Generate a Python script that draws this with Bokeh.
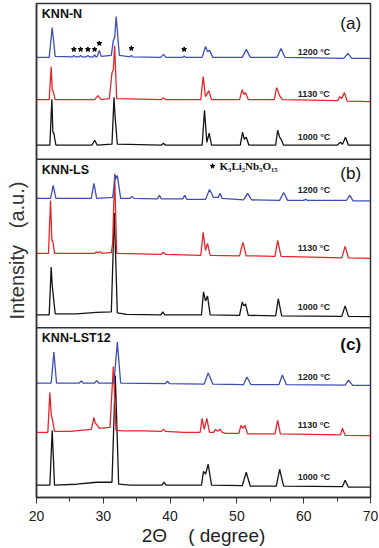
from bokeh.plotting import figure
from bokeh.models import Range1d, Label, Span, SingleIntervalTicker, FixedTicker
from bokeh.embed import file_html
from bokeh.resources import INLINE

# ---------------- data (2theta in degrees, intensity in a.u. above each pattern's baseline) ----------------
# Panel (a) KNN-N
a1200_x = [20, 21.9, 22.35, 22.8, 25.4, 25.6, 25.8, 26.4, 26.6, 26.8, 27.5, 27.7, 27.9, 28.5, 28.7, 28.9, 29.1, 29.4, 29.7,
           31.2, 31.5, 31.7, 31.93, 32.4, 34.0, 34.2, 34.4, 38.6, 39.0, 39.4, 41.9, 42.1, 42.3, 44.8, 45.3, 45.6, 45.9, 46.4,
           50.8, 51.4, 52.0, 56.0, 56.6, 57.2, 66.0, 66.6, 67.2, 70]
a1200_y = [0, 0, 30, 1, 0.5, 2, 0.5, 0.5, 2, 0.5, 0.5, 2, 0.5, 0.5, 2.5, 0.5, 1, 7, 1,
           2, 17, 20, 41, 2, 0.5, 2, 0.5, 0, 3, 0, 0, 1.5, 0, 0, 11, 6, 7, 0,
           0, 8, 0, 0, 9, 0, -1, 4, -1, -1]
a1130_x = [20, 21.9, 22.2, 22.35, 22.5, 22.8, 28.7, 29.2, 29.7, 30.9, 31.3, 31.5, 31.7, 32.0, 38.7, 39.0, 39.3,
           44.6, 44.95, 45.3, 45.8, 46.2, 50.4, 50.8, 51.05, 51.3, 51.7, 55.6, 55.95, 56.4, 56.8,
           65.1, 65.4, 65.7, 66.1, 66.5, 70]
a1130_y = [0, 0, 33, 10, 8, 0, 0, 4, 0, 1, 27, 30, 54, 1, 0, 2, 0,
           0, 23, 3, 9, 0, 0, 10, 5, 7, 0, 0, 12, 4, 0,
           -1, 3, 1, 7, -1.5, -2]
a1000_x = [20, 22.0, 22.3, 22.45, 22.6, 22.9, 28.3, 28.7, 29.1, 31.3, 31.6, 31.75, 32.1, 38.7, 39.0, 39.3,
           44.8, 45.15, 45.5, 45.85, 46.2, 50.5, 50.85, 51.1, 51.4, 51.8, 55.8, 56.1, 56.4, 56.6, 57.0,
           65.0, 65.5, 65.8, 66.25, 66.7, 70]
a1000_y = [0, 0, 46, 13, 12, 0, 0, 5, 0, 1, 48, 30, 1, 0, 2, 0,
           0, 35, 3, 12, 0, 0, 13, 6, 8, 0, 0, 15, 8, 6, 0,
           0, 3, 1, 8, 0, 0]
# K3Li2Nb5O15 marks in panel (a)
star_x = [25.6, 26.6, 27.7, 28.7, 29.4, 34.2, 42.1]
star_y = [8, 8, 8, 8, 14, 9, 8]

# Panel (b) KNN-LS
b1200_x = [20, 22.1, 22.5, 22.9, 28.2, 28.6, 29.0, 31.4, 31.8, 31.95, 32.1, 32.6, 34.0, 34.3, 34.6, 38.1, 38.4, 38.7,
           41.9, 42.2, 42.5, 45.3, 45.9, 46.5, 47.2, 47.5, 47.8, 51.0, 51.6, 52.2, 56.4, 57.0, 57.6, 60.0, 60.3, 60.6,
           66.4, 66.9, 67.4, 70]
b1200_y = [0, 0, 13, 0, 0, 15, 0, 1, 23, 20, 23, 0, 0, 2, 0, -0.5, 3, -0.5,
           -0.5, 3, -1, -1, 9, 1, 1, 5, 0, -1.5, 5, -1.5, -2, 6, -2, -2, -1, -2,
           -2, 3, -2.5, -2.5]
b1130_x = [20, 21.8, 22.1, 22.3, 22.45, 22.7, 28.7, 29.0, 29.3, 29.5, 29.8, 31.2, 31.4, 31.7, 32.0, 38.7, 39.0, 39.3,
           44.6, 44.95, 45.3, 45.6, 46.0, 50.4, 50.9, 51.4, 55.7, 56.1, 56.6, 65.7, 66.2, 66.7, 70]
b1130_y = [0, 0, 53, 13, 12, 0, 0, 1.5, 0.5, 1.5, 0, 1, 10, 80, 0, -1, 1, -1,
           -2, 21, 3, 10, -2, -2.5, 11, -2.5, -3, 13, -3, -4.5, 7, -4.5, -5]
b1000_x = [20, 21.9, 22.2, 22.35, 22.5, 22.8, 26.0, 29.0, 31.2, 31.65, 32.1, 33.5, 38.6, 38.9, 39.2,
           44.7, 45.0, 45.3, 45.6, 46.0, 50.4, 50.8, 51.05, 51.3, 51.7, 55.8, 56.2, 56.7, 65.7, 66.2, 66.7, 70]
b1000_y = [0, 0, 48, 30, 20, 1, 1, 2.5, 3, 102, 2, 0.5, 0, 3, 0,
           0, 23, 14, 19, 0, -0.5, 13, 9, 11, -0.5, -1, 16, -1, -1.5, 9, -1.5, -1.7]

# Panel (c) KNN-LST12
c1200_x = [20, 22.2, 22.6, 23.0, 26.4, 26.7, 27.0, 28.7, 29.0, 29.3, 31.6, 32.1, 32.6, 39.3, 39.6, 39.9,
           45.1, 45.7, 46.4, 51.0, 51.5, 52.1, 56.3, 56.8, 57.4, 66.2, 66.7, 67.3, 70]
c1200_y = [0, 0, 31, 0, 0, 2, 0, 0, 2.5, 0, 0, 41, 0, -0.5, 2, -0.5,
           -1, 10, -1, -1.5, 6, -1.5, -1.5, 8, -1.5, -2, 3, -2.2, -2.4]
c1130_x = [20, 21.7, 22.0, 22.2, 22.35, 22.7, 25.0, 28.2, 28.6, 28.8, 29.0, 29.4, 31.0, 31.5, 31.9, 33.0, 36.0,
           38.7, 39.0, 39.3, 42.0, 44.5, 44.8, 45.1, 45.5, 45.9, 46.5, 46.8, 47.1, 47.5, 47.8, 48.3,
           50.3, 50.6, 50.9, 51.2, 51.6, 55.7, 56.1, 56.5, 65.5, 65.8, 66.2, 70]
c1130_y = [0, 0, 40, 18, 14, 1, 1, 3, 15, 9, 8, 4, 5, 66, 2, 1.5, 1.5,
           1, 3, 1, 0, 0, 14, 3, 14, 0, 0, 3, 1, 3, 0, -1,
           -1, 7, 4, 7, -1.5, -1.5, 12, -1.5, -2.5, 4, -3, -3.3]
c1000_x = [20, 22.0, 22.35, 22.7, 26.0, 29.0, 31.3, 31.8, 32.3, 34.0, 38.8, 39.1, 39.4,
           44.7, 45.0, 45.3, 45.7, 46.2, 50.8, 51.4, 52.0, 55.9, 56.4, 57.0, 65.8, 66.2, 66.7, 70]
c1000_y = [0, 0, 55, 0, 1, 3, 3, 110, 1, 0, 0, 3, 0,
           0, 14, 11, 21, 0, -0.5, 13, -1, -1, 16, -1, -1.5, 5, -2, -2]

temps = ["1200 °C", "1130 °C", "1000 °C"]
panel_names = ["KNN-N", "KNN-LS", "KNN-LST12"]
panel_tags = ["(a)", "(b)", "(c)"]

# ---------------- layout constants ----------------
BLUE, RED, BLACK = "#3d4fb5", "#e3262b", "#141414"
# baselines of the stacked patterns (a.u.)
off_a = [441, 398.7, 353]
off_b = [299.7, 244.7, 183]
off_c = [114.7, 65.3, 12.3]
bounds = [170, 339]

p = figure(width=378, height=548, x_range=Range1d(20, 70), y_range=Range1d(0, 495),
           output_backend="svg", toolbar_location=None,
           min_border_left=36, min_border_right=8, min_border_top=3, min_border_bottom=50)
p.xgrid.visible = False
p.ygrid.visible = False
p.outline_line_color = "#333333"
p.outline_line_width = 1.5
p.background_fill_color = "white"

# x axis
p.xaxis.ticker = SingleIntervalTicker(interval=10, num_minor_ticks=2)
p.xaxis.major_tick_out = 6
p.xaxis.major_tick_in = 0
p.xaxis.minor_tick_out = 4
p.xaxis.minor_tick_in = 0
p.xaxis.major_label_standoff = 7
p.xaxis.major_label_text_font = "Liberation Sans"
p.xaxis.major_label_text_font_size = "14px"
p.xaxis.major_label_text_color = "#222222"
p.xaxis.axis_label = "2Θ\u00a0\u00a0\u00a0\u00a0( degree)"
p.xaxis.axis_label_text_font = "Liberation Sans"
p.xaxis.axis_label_text_font_size = "19px"
p.xaxis.axis_label_text_font_style = "normal"
p.xaxis.axis_label_text_color = "#222222"
p.xaxis.axis_label_standoff = 1
p.xaxis.axis_line_color = "#333333"
p.xaxis.axis_line_width = 1.5
p.xaxis.major_tick_line_color = "#333333"
p.xaxis.minor_tick_line_color = "#333333"

# y axis
p.yaxis.ticker = FixedTicker(ticks=[])
p.yaxis.major_tick_line_color = None
p.yaxis.minor_tick_line_color = None
p.yaxis.axis_line_color = "#333333"
p.yaxis.axis_line_width = 1.5
p.yaxis.axis_label = "Intensity\u00a0\u00a0 (a.u.)"
p.yaxis.axis_label_text_font = "Liberation Sans"
p.yaxis.axis_label_text_font_size = "20px"
p.yaxis.axis_label_text_font_style = "normal"
p.yaxis.axis_label_text_color = "#333333"
p.yaxis.axis_label_standoff = 9

for b in bounds:
    p.add_layout(Span(location=b, dimension="width", line_color="#333333", line_width=1.5))

panels = [
    ([(a1000_x, a1000_y), (a1130_x, a1130_y), (a1200_x, a1200_y)], off_a),
    ([(b1000_x, b1000_y), (b1130_x, b1130_y), (b1200_x, b1200_y)], off_b),
    ([(c1000_x, c1000_y), (c1130_x, c1130_y), (c1200_x, c1200_y)], off_c),
]
colors = [BLACK, RED, BLUE]
for curves, offs in panels:
    # offs is ordered 1200, 1130, 1000 ; curves ordered 1000, 1130, 1200
    for (xs, ys), col, off in zip(curves, colors, offs[::-1]):
        p.line(xs, [v + off for v in ys], line_color=col, line_width=1.3)

# stars
p.scatter(star_x, [v + off_a[0] for v in star_y], marker="star", size=5,
          fill_color="black", line_color="black")

# temperature labels
lab_x = 59.1
temp_y = [[446, 404, 361], [308, 250, 191], [121, 73, 21]]
for ys in temp_y:
    for t, y in zip(temps, ys):
        p.add_layout(Label(x=lab_x, y=y, text=t, text_font="Liberation Sans", text_font_size="9px",
                           text_font_style="bold", text_color="#222222", text_baseline="middle"))

# panel titles and tags
title_y = [484.7, 328, 159.7]
tag_y = [474.7, 324.7, 153.7]
tag_style = ["normal", "normal", "bold"]
for name, tag, ty, gy, st in zip(panel_names, panel_tags, title_y, tag_y, tag_style):
    p.add_layout(Label(x=20.8, y=ty, text=name, text_font="Liberation Sans", text_font_size="12.5px",
                       text_font_style="bold", text_color="#111111", text_baseline="middle"))
    p.add_layout(Label(x=68.6, y=gy, text=tag, text_font="Liberation Sans", text_font_size="17px",
                       text_font_style=st, text_color="#111111", text_baseline="middle", text_align="right"))

# phase legend
p.scatter([46.35], [332], marker="star", size=5, fill_color="black", line_color="black")
p.add_layout(Label(x=47.4, y=332, text="K₃Li₂Nb₅O₁₅", text_font="Liberation Serif", text_font_size="11px",
                   text_font_style="bold", text_color="#111111", text_baseline="middle"))

open("out.html", "w").write(file_html(p, INLINE))
